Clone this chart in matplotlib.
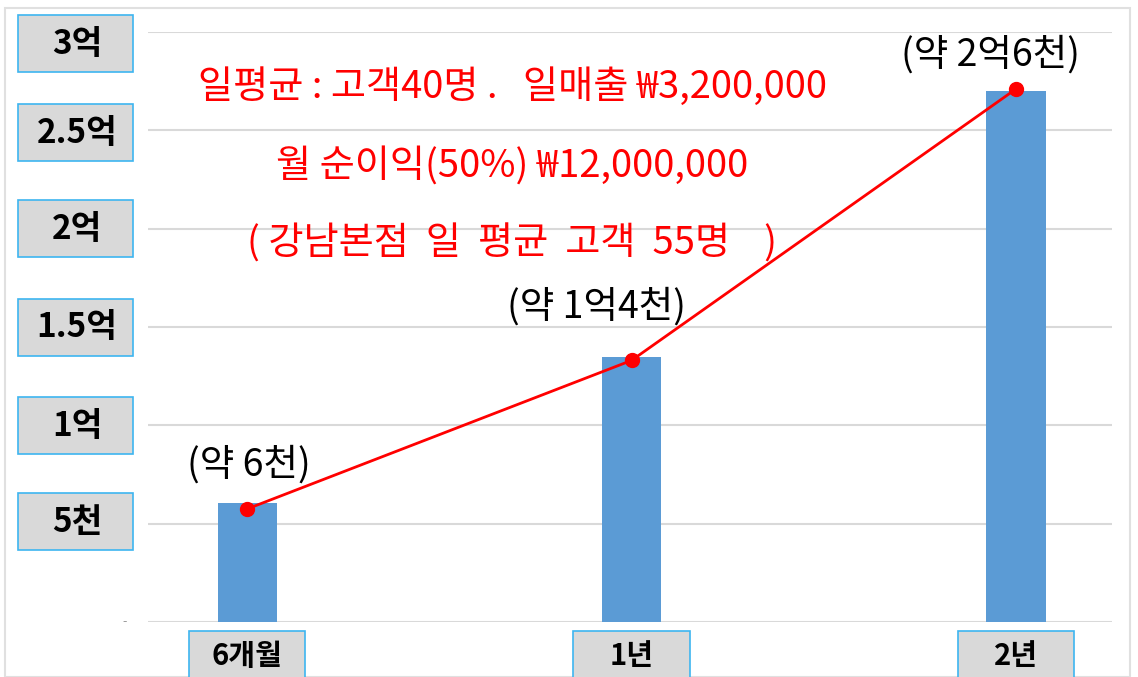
import matplotlib
matplotlib.use("Agg")
import matplotlib.pyplot as plt
from matplotlib.patches import Rectangle
from matplotlib.transforms import blended_transform_factory

plt.rcParams['font.family'] = ['Noto Sans CJK KR', 'DejaVu Sans']

categories = ["6개월", "1년", "2년"]
bar_values = [0.605, 1.35, 2.70]
line_values = [0.575, 1.33, 2.71]
point_labels = ["(약 6천)", "(약 1억4천)", "(약 2억6천)"]
label_offsets_x = [0.005, -0.09, -0.065]
label_y = [0.80, 1.60, 2.88]
ytick_values = [0.5, 1.0, 1.5, 2.0, 2.5, 3.0]
ytick_labels = ["5천", "1억", "1.5억", "2억", "2.5억", "3억"]
ytick_label_pos = [0.51, 1.0, 1.5, 2.0, 2.49, 2.94]
notes = ["일평균 : 고객40명 .   일매출 ₩3,200,000",
         "월 순이익(50%) ₩12,000,000",
         "( 강남본점  일  평균  고객  55명    )"]
notes_y = [2.72, 2.32, 1.92]

W, H = 1138, 677
fig = plt.figure(figsize=(W / 100, H / 100), dpi=100)
ax = fig.add_axes([148 / W, 55 / H, (1112 - 148) / W, 590 / H])
ax.set_xlim(-0.258, 2.25)
ax.set_ylim(0, 3)

x = list(range(len(categories)))
for v in [0] + ytick_values:
    ax.axhline(v, color="#D9D9D9", lw=1.5, zorder=0)
ax.bar(x, bar_values, width=0.154, color="#5B9BD5", zorder=2)
ax.plot(x, line_values, color="#FF0000", lw=2, marker="o", markersize=10, zorder=3)

for xi, lab, dx, ly in zip(x, point_labels, label_offsets_x, label_y):
    ax.text(xi + dx, ly, lab, ha="center", va="center", fontsize=27, color="black")

for t, ny in zip(notes, notes_y):
    ax.text(0.69, ny, t, ha="center", va="center", fontsize=27.5, color="#FF0000")

for s in ax.spines.values():
    s.set_visible(False)
ax.set_xticks([])
ax.set_yticks([])

# y tick labels in boxes
trY = blended_transform_factory(fig.transFigure, ax.transData)
box_h = 57 / 590 * 3
for lab, yp in zip(ytick_labels, ytick_label_pos):
    r = Rectangle((18 / W, yp - box_h / 2), 115 / W, box_h, transform=trY,
                  facecolor="#D9D9D9", edgecolor="#3DB5F0", lw=1.2, clip_on=False, zorder=5)
    fig.add_artist(r)
    fig.text(77 / W, yp - 0.005, lab, transform=trY, ha="center", va="center",
             fontsize=24, fontweight="heavy", color="black", zorder=6)
fig.text(125 / W, 0.0, "-", transform=trY, ha="center", va="center", fontsize=9, color="#999999")

# category labels in boxes
trX = blended_transform_factory(ax.transData, fig.transFigure)
box_w = 116 / 384
for xi, lab in zip(x, categories):
    r = Rectangle((xi - box_w / 2, -10 / H), box_w, (H - 631 + 10) / H, transform=trX,
                  facecolor="#D9D9D9", edgecolor="#3DB5F0", lw=1.2, clip_on=False, zorder=5)
    fig.add_artist(r)
    fig.text(xi, (H - 656) / H, lab, transform=trX, ha="center", va="center",
             fontsize=21, fontweight="heavy", color="black", zorder=6)

# outer faint border
fig.add_artist(Rectangle((5 / W, 0), (1130 - 5) / W, (H - 8) / H, transform=fig.transFigure,
                         facecolor="none", edgecolor="#E0E0E0", lw=1.5, zorder=0))

fig.savefig("out.png", dpi=100)
